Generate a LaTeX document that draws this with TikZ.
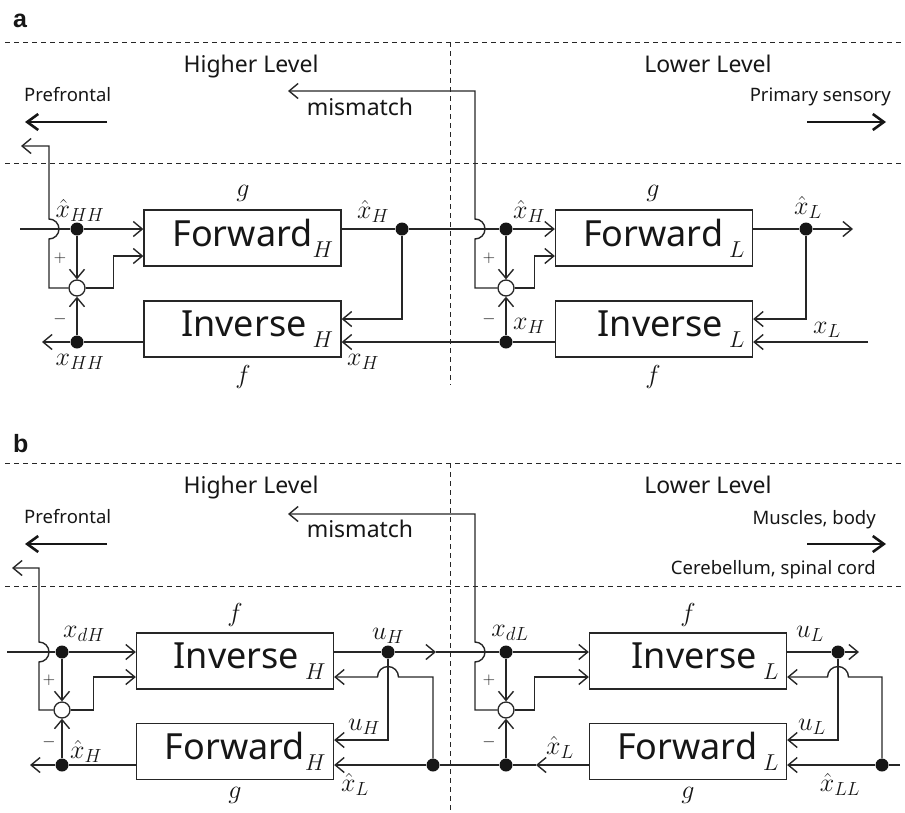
\RequirePackage{fix-cm}
\documentclass[tikz,border=0pt]{standalone}
\usepackage{fontspec}
\setmainfont{Noto Sans}
\newfontfamily\tagfont{Liberation Sans}
\usepackage{xcolor}
\definecolor{wiregray}{RGB}{38,38,38}
\definecolor{inkblack}{RGB}{22,22,22}
\usetikzlibrary{arrows.meta}
\DeclareMathSizes{26}{26}{19}{14}
\newcommand{\boxsub}[1]{\raisebox{-11pt}{\fontsize{23}{23}\selectfont$#1$}}
\newcommand{\boxfont}{\fontsize{36}{40}\selectfont}
\newcommand{\lblfont}{\fontsize{26}{30}\selectfont}
\newcommand{\levelfont}{\fontsize{23}{27}\selectfont}
\newcommand{\areafont}{\fontsize{18.5}{22}\selectfont}
\tikzset{
  blockbox/.style={rectangle,draw=wiregray,line width=1.3pt,minimum width=197pt,
                   minimum height=56pt,inner xsep=8pt,inner ysep=1pt,text width=181pt,
                   align=right,font=\boxfont,text=inkblack},
  joint/.style   ={circle,fill=inkblack,inner sep=0pt,minimum size=13pt},
  summer/.style  ={circle,draw=wiregray,fill=white,line width=1.3pt,inner sep=0pt,minimum size=16pt},
  flow/.style    ={line width=1.4pt,draw=wiregray,-{Straight Barb[length=9pt,width=15pt]}},
  bigflow/.style ={line width=2.6pt,draw=inkblack,-{Straight Barb[length=11pt,width=16pt]}},
  divider/.style ={draw=wiregray,line width=1pt,dash pattern=on 5pt off 4pt},
  sig/.style     ={font=\lblfont,inner sep=0pt,text=inkblack},
  sign/.style    ={font=\fontsize{17}{17}\selectfont,inner sep=0pt,text=inkblack},
  level/.style   ={font=\levelfont,inner sep=0pt,text=inkblack},
  area/.style    ={font=\areafont,inner sep=0pt,text=inkblack},
  panel/.style   ={font=\fontsize{25}{28}\selectfont\tagfont\bfseries,inner sep=0pt,text=inkblack},
}
\begin{document}
\begin{tikzpicture}[x=1pt,y=1pt]
  \useasboundingbox (0,0) rectangle (905,-812);
  % ---------------- panel a ----------------
  \node[panel,anchor=base west] (tagA) at (13,-27) {a};
  \draw[divider] (5,-42) -- (905,-42);
  \draw[divider] (5,-163) -- (905,-163);
  \draw[divider] (450,-42) -- (450,-385);
  \node[level,anchor=base] (hiA) at (251,-72) {Higher Level};
  \node[level,anchor=base] (loA) at (708,-72) {Lower Level};
  \node[area,anchor=base west] (pfA) at (24,-101) {Prefrontal};
  \node[area,anchor=base east] (psA) at (891,-101) {Primary sensory};
  \node[level,anchor=base] (mmA) at (360,-115) {mismatch};
  \coordinate (pfAs) at (107,-122); \coordinate (pfAe) at (25,-122);
  \coordinate (psAs) at (807,-122); \coordinate (psAe) at (886,-122);
  \draw[bigflow] (pfAs) -- (pfAe);
  \draw[bigflow] (psAs) -- (psAe);
  % blocks
  \node[blockbox] (FH) at (242.5,-238) {Forward\boxsub{H}};
  \node[blockbox] (IH) at (242.5,-329) {Inverse\,\boxsub{H}};
  \node[blockbox] (FL) at (654,-238) {Forward\,\boxsub{L}};
  \node[blockbox] (IL) at (654,-329) {Inverse\,\boxsub{L}};
  % junctions
  \node[joint] (d1) at (77,-229) {};
  \node[joint] (d2) at (77,-342) {};
  \node[summer] (s1) at (77,-288) {};
  \node[joint] (d3) at (402,-229) {};
  \node[joint] (d4) at (506,-229) {};
  \node[joint] (d5) at (506,-342) {};
  \node[summer] (s2) at (506,-288) {};
  \node[joint] (d6) at (806,-229) {};
  \coordinate (inHH) at (20,-229);
  \coordinate (upHH) at (21,-146);
  \coordinate (outHH) at (42,-342);
  \coordinate (mmAe) at (288,-91);
  \coordinate (outL) at (853,-229);
  \coordinate (inL) at (868,-342);
  % wires, higher level
  \draw[flow] (inHH) -- (d1) -- (d1 -| FH.west);
  \draw[flow] (d1) -- (s1);
  \draw[flow] (d2) -- (s1);
  \draw[flow] (s1.east) -- ++(28,0) |- ([yshift=-18pt]FH.west);
  \draw[flow] (s1.west) -- (49,-288) -- (49,-239)
              arc[start angle=-90,end angle=90,radius=10pt] -- (49,-146) -- (upHH);
  \draw[flow] ([yshift=-13pt]IH.west) -- (d2) -- (outHH);
  \draw[flow] ([yshift=9pt]FH.east) -- (d3) -- (d4) -- (d4 -| FL.west);
  \draw[flow] (d3) |- ([yshift=10pt]IH.east);
  \draw[flow] ([yshift=-13pt]IL.west) -- (d5) -- ([yshift=-13pt]IH.east);
  % wires, lower level
  \draw[flow] (d4) -- (s2);
  \draw[flow] (d5) -- (s2);
  \draw[flow] (s2.east) -- ++(20,0) |- ([yshift=-18pt]FL.west);
  \draw[flow] (s2.west) -- (475,-288) -- (475,-239)
              arc[start angle=-90,end angle=90,radius=10pt] -- (475,-91) -- (mmAe);
  \draw[flow] ([yshift=9pt]FL.east) -- (d6) -- (outL);
  \draw[flow] (d6) |- ([yshift=10pt]IL.east);
  \draw[flow] (inL) -- ([yshift=-13pt]IL.east);
  % signal labels
  \node[sig] (lhxHH) at (80,-210) {$\hat{x}_{HH}$};
  \node[sig] (lxHH) at (80,-362) {$x_{HH}$};
  \node[sign] (pA1) at (60,-258) {$+$};
  \node[sign] (mA1) at (60,-319) {$-$};
  \node[sig] (gA1) at (243,-193) {$g$};
  \node[sig] (fA1) at (243,-377) {$f$};
  \node[sig] (lhxH1) at (373,-211) {$\hat{x}_{H}$};
  \node[sig] (lxH1) at (363,-362) {$x_{H}$};
  \node[sig] (lhxH2) at (529,-211) {$\hat{x}_{H}$};
  \node[sig] (lxH2) at (529,-326) {$x_{H}$};
  \node[sign] (pA2) at (489,-258) {$+$};
  \node[sign] (mA2) at (489,-319) {$-$};
  \node[sig] (gA2) at (653,-193) {$g$};
  \node[sig] (fA2) at (653,-377) {$f$};
  \node[sig] (lhxL) at (808,-207) {$\hat{x}_{L}$};
  \node[sig] (lxL) at (827,-330) {$x_{L}$};
  % ---------------- panel b ----------------
  \node[panel,anchor=base west] (tagB) at (13,-452) {b};
  \draw[divider] (5,-463) -- (905,-463);
  \draw[divider] (5,-586) -- (905,-586);
  \draw[divider] (450,-463) -- (450,-812);
  \node[level,anchor=base] (hiB) at (251,-493) {Higher Level};
  \node[level,anchor=base] (loB) at (708,-493) {Lower Level};
  \node[area,anchor=base west] (pfB) at (24,-523) {Prefrontal};
  \node[area,anchor=base east] (muB) at (876,-524) {Muscles, body};
  \node[area,anchor=base east] (ceB) at (876,-574) {Cerebellum, spinal cord};
  \node[level,anchor=base] (mmB) at (360,-537) {mismatch};
  \coordinate (pfBs) at (107,-544); \coordinate (pfBe) at (25,-544);
  \coordinate (muBs) at (807,-544); \coordinate (muBe) at (886,-544);
  \draw[bigflow] (pfBs) -- (pfBe);
  \draw[bigflow] (muBs) -- (muBe);
  % blocks
  \node[blockbox] (IH2) at (235,-661) {Inverse\,\boxsub{H}};
  \node[blockbox] (FH2) at (235,-751.5) {Forward\boxsub{H}};
  \node[blockbox] (IL2) at (688,-661) {Inverse\,\boxsub{L}};
  \node[blockbox] (FL2) at (688,-751.5) {Forward\,\boxsub{L}};
  % junctions
  \node[joint] (e1) at (62,-652) {};
  \node[joint] (e2) at (62,-765) {};
  \node[summer] (s3) at (62,-710) {};
  \node[joint] (e3) at (388,-652) {};
  \node[joint] (e4) at (506,-652) {};
  \node[joint] (e5) at (433,-765) {};
  \node[joint] (e6) at (506,-765) {};
  \node[summer] (s4) at (506,-710) {};
  \node[joint] (e7) at (838,-652) {};
  \node[joint] (e8) at (882,-765) {};
  \coordinate (inxdH) at (7,-652);
  \coordinate (upxdH) at (12,-568);
  \coordinate (outxH) at (30,-765);
  \coordinate (miduH) at (436,-652);
  \coordinate (midxL) at (536,-765);
  \coordinate (mmBe) at (288,-514);
  \coordinate (outuL) at (859,-652);
  \coordinate (inxLL) at (900,-765);
  % wires, higher level
  \draw[flow] (inxdH) -- (e1) -- (e1 -| IH2.west);
  \draw[flow] (e1) -- (s3);
  \draw[flow] (e2) -- (s3);
  \draw[flow] (s3.east) -- ++(23,0) |- ([yshift=-16pt]IH2.west);
  \draw[flow] (s3.west) -- (39,-710) -- (39,-662)
              arc[start angle=-90,end angle=90,radius=10pt] -- (39,-568) -- (upxdH);
  \draw[flow] ([yshift=-13.5pt]FH2.west) -- (e2) -- (outxH);
  \draw[flow] ([yshift=9pt]IH2.east) -- (e3) -- (miduH);
  \draw[flow] (miduH) -- (e4) -- (e4 -| IL2.west);
  \draw[flow] (e3) |- ([yshift=11.5pt]FH2.east);
  \draw[flow] (e5) -- (433,-677) -- (398.5,-677)
              arc[start angle=0,end angle=180,radius=10.5pt] -- ([yshift=-16pt]IH2.east);
  \draw[flow] ([yshift=-13.5pt]FL2.west) -- (midxL);
  \draw[flow] (midxL) -- (e6) -- (e5) -- ([yshift=-13.5pt]FH2.east);
  % wires, lower level
  \draw[flow] (e4) -- (s4);
  \draw[flow] (e6) -- (s4);
  \draw[flow] (s4.east) -- ++(20,0) |- ([yshift=-16pt]IL2.west);
  \draw[flow] (s4.west) -- (475,-710) -- (475,-662)
              arc[start angle=-90,end angle=90,radius=10pt] -- (475,-514) -- (mmBe);
  \draw[flow] ([yshift=9pt]IL2.east) -- (e7) -- (outuL);
  \draw[flow] (e7) |- ([yshift=11.5pt]FL2.east);
  \draw[flow] (e8) -- (882,-677) -- (848.5,-677)
              arc[start angle=0,end angle=180,radius=10.5pt] -- ([yshift=-16pt]IL2.east);
  \draw[flow] (inxLL) -- (e8) -- ([yshift=-13.5pt]FL2.east);
  % signal labels
  \node[sig] (lxdH) at (84,-634) {$x_{dH}$};
  \node[sig] (lhxHb) at (86,-751) {$\hat{x}_{H}$};
  \node[sign] (pB1) at (49,-680) {$+$};
  \node[sign] (mB1) at (49,-742) {$-$};
  \node[sig] (fB1) at (235,-615) {$f$};
  \node[sig] (gB1) at (235,-795) {$g$};
  \node[sig] (luH1) at (388,-636) {$u_{H}$};
  \node[sig] (luH2) at (364,-727) {$u_{H}$};
  \node[sig] (lhxL1) at (355,-784) {$\hat{x}_{L}$};
  \node[sig] (lxdL) at (510,-633) {$x_{dL}$};
  \node[sig] (lhxL2) at (560,-747) {$\hat{x}_{L}$};
  \node[sign] (pB2) at (489,-680) {$+$};
  \node[sign] (mB2) at (489,-742) {$-$};
  \node[sig] (fB2) at (688,-615) {$f$};
  \node[sig] (gB2) at (688,-795) {$g$};
  \node[sig] (luL1) at (810,-634) {$u_{L}$};
  \node[sig] (luL2) at (812,-727) {$u_{L}$};
  \node[sig] (lhxLL) at (840,-784) {$\hat{x}_{LL}$};
\end{tikzpicture}
\end{document}
